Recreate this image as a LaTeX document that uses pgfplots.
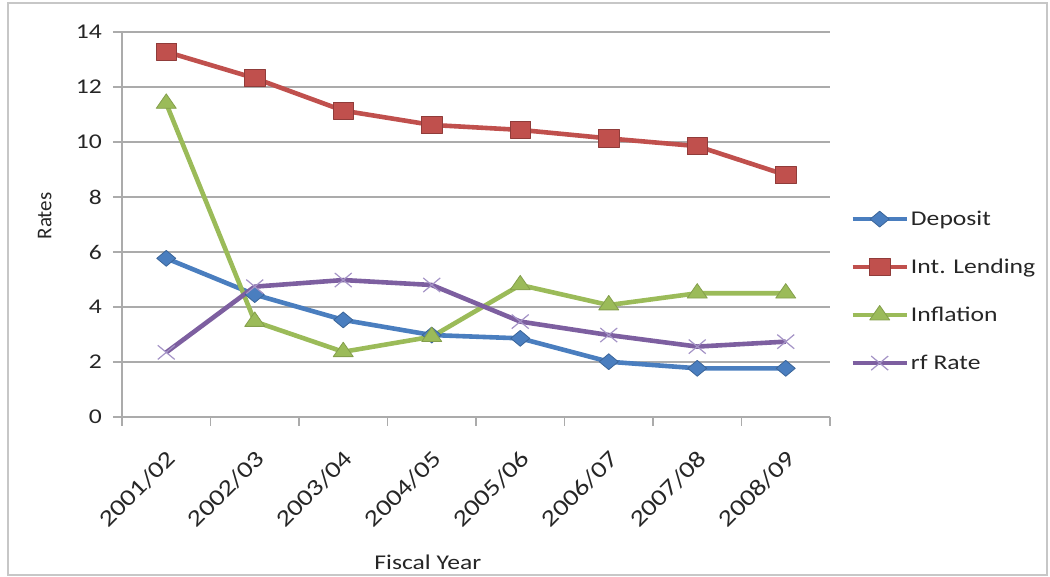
\documentclass[border=0pt]{standalone}
\usepackage{pgfplots}
\pgfplotsset{compat=1.18}
\usepackage{pgfplotstable}
\usepackage{fontspec}
\setmainfont{Carlito}[FakeStretch=1.22]
\newfontfamily\plainfont{Carlito}

\definecolor{depblue}{HTML}{4A7EBF}
\definecolor{lendred}{HTML}{C0504D}
\definecolor{inflgreen}{HTML}{9BBB59}
\definecolor{rfpurple}{HTML}{7D5FA0}
\definecolor{rfmark}{HTML}{A493C6}
\definecolor{gridgray}{HTML}{ABABAB}
\definecolor{txt}{HTML}{262626}

% Rates by fiscal year (0 = 2001/02 ... 7 = 2008/09)
\pgfplotstableread{
x  deposit lending inflation rf
0  5.77    13.28   11.40     2.35
1  4.45    12.32    3.47     4.74
2  3.53    11.14    2.37     4.98
3  2.98    10.62    2.92     4.80
4  2.86    10.44    4.80     3.47
5  2.01    10.13    4.07     2.98
6  1.77     9.85    4.50     2.56
7  1.77     8.80    4.50     2.74
}\ratesdata

\begin{document}
\begin{tikzpicture}[x=1pt,y=1pt]
\useasboundingbox (0,0) rectangle (525,288.5);
\draw[black!22, line width=0.6pt] (4,1) rectangle (523.5,287);
\begin{axis}[
  at={(61pt,80pt)}, anchor=south west,
  width=354pt, height=192.5pt, scale only axis,
  xmin=-0.5, xmax=7.5, ymin=0, ymax=14,
  xtick={0,...,7},
  xticklabels={2001/02,2002/03,2003/04,2004/05,2005/06,2006/07,2007/08,2008/09},
  every major x tick/.append style={draw=none},
  minor xtick={-0.5,0.5,...,7.5},
  ytick={0,2,...,14},
  ymajorgrids,
  grid style={gridgray, line width=0.9pt},
  axis x line*=bottom, axis y line*=left,
  axis line style={gridgray, line width=0.9pt, -},
  tick align=outside,
  tick style={gridgray, line width=0.9pt},
  major tick length=4.5pt, minor tick length=4.5pt,
  /pgf/number format/assume math mode=true,
  tick label style={font=\fontsize{10.5}{12}\selectfont, text=txt},
  yticklabel style={xshift=-2pt},
  xticklabel style={rotate=45, anchor=north east, inner sep=0.5pt, xshift=-7.5pt, yshift=-7.1pt,
                    font=\fontsize{11.6}{13}\selectfont},
  xlabel={Fiscal Year},
  xlabel style={at={(axis description cs:0.432,0)}, anchor=center, yshift=-72.5pt,
                font=\fontsize{10.5}{12}\selectfont, text=txt},
  ylabel={\plainfont Rates},
  ylabel style={at={(axis description cs:-0.109,0.522)}, anchor=center,
                font=\fontsize{10.5}{12}\selectfont, text=txt},
  legend style={at={(axis description cs:1,0.327)}, anchor=west, xshift=10pt,
                draw=none, fill=none, inner sep=0pt, row sep=12pt,
                font=\fontsize{10.5}{12}\selectfont, text=txt,
                nodes={inner sep=1pt, text height=8pt, text depth=2pt}},
  legend cell align=left,
  legend image code/.code={
    \draw[mark repeat=2, mark phase=2] plot coordinates {(0pt,0pt) (13.5pt,0pt) (27pt,0pt)};
  },
  every axis plot/.append style={line width=2.3pt, line join=round},
]
\addplot[color=depblue, mark=square*,
  mark options={fill=depblue, draw=depblue!80!black, line width=0.4pt, xscale=1.2, rotate=45},
  mark size=2.8pt] table[x=x, y=deposit] {\ratesdata};
\addlegendentry{Deposit}
\addplot[color=lendred, mark=square*,
  mark options={fill=lendred, draw=lendred!75!black, line width=0.4pt, xscale=1.2},
  mark size=4.3pt] table[x=x, y=lending] {\ratesdata};
\addlegendentry{Int. Lending}
\addplot[color=inflgreen, mark=triangle*,
  mark options={fill=inflgreen, draw=inflgreen!85!black, line width=0.4pt, xscale=1.2},
  mark size=4.8pt] table[x=x, y=inflation] {\ratesdata};
\addlegendentry{Inflation}
\addplot[color=rfpurple, mark=x,
  mark options={draw=rfmark, line width=0.6pt, xscale=1.2},
  mark size=5pt] table[x=x, y=rf] {\ratesdata};
\addlegendentry{rf Rate}
\end{axis}
\end{tikzpicture}
\end{document}
